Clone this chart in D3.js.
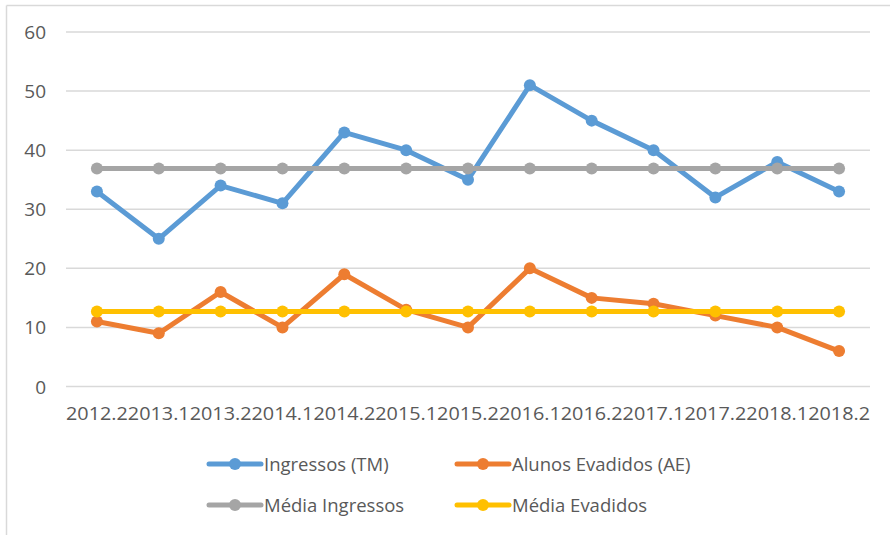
<!DOCTYPE html>
<html lang="pt">
<head>
<meta charset="UTF-8">
<title>Ingressos e Evadidos</title>
<script src="https://d3js.org/d3.v7.min.js"></script>
<style>
    body { margin: 0; background: #fff; }
    svg text { font-family: "Open Sans", sans-serif; fill: #595959; }
</style>
</head>
<body>
<svg width="890" height="535"></svg>
<script>
    // data
    const semesters = ["2012.2","2013.1","2013.2","2014.1","2014.2","2015.1","2015.2",
                       "2016.1","2016.2","2017.1","2017.2","2018.1","2018.2"];
    const ingressos = [33, 25, 34, 31, 43, 40, 35, 51, 45, 40, 32, 38, 33];
    const evadidos  = [11, 9, 16, 10, 19, 13, 10, 20, 15, 14, 12, 10, 6];
    const mediaIngressos = [36.9, 36.9, 36.9, 36.9, 36.9, 36.9, 36.9, 36.9, 36.9, 36.9, 36.9, 36.9, 36.9];
    const mediaEvadidos  = [12.7, 12.7, 12.7, 12.7, 12.7, 12.7, 12.7, 12.7, 12.7, 12.7, 12.7, 12.7, 12.7];
    const yTicks = [0, 10, 20, 30, 40, 50, 60];

    const series = [
        {name: "Ingressos (TM)", values: ingressos, color: "#5b9bd5"},
        {name: "Alunos Evadidos (AE)", values: evadidos, color: "#ed7d31"},
        {name: "Média Ingressos", values: mediaIngressos, color: "#a5a5a5"},
        {name: "Média Evadidos", values: mediaEvadidos, color: "#ffc000"}
    ];

    let svg = d3.select("svg");

    // chart frame (only top and left edges visible)
    svg.append("line").attr("x1", 6.5).attr("x2", 890).attr("y1", 5.5).attr("y2", 5.5)
        .attr("stroke", "#d9d9d9").attr("stroke-width", 1.5);
    svg.append("line").attr("x1", 6.5).attr("x2", 6.5).attr("y1", 5.5).attr("y2", 535)
        .attr("stroke", "#d9d9d9").attr("stroke-width", 1.5);

    let x = d3.scalePoint().domain(semesters).range([66, 870]).padding(0.5);
    let y = d3.scaleLinear().domain([0, 60]).range([386.5, 32]);

    // gridlines
    svg.append("g").selectAll("line")
        .data(yTicks).enter().append("line")
        .attr("x1", 66).attr("x2", 870)
        .attr("y1", d => y(d)).attr("y2", d => y(d))
        .attr("stroke", "#d9d9d9").attr("stroke-width", 1.5);

    // y labels
    svg.append("g").selectAll("text")
        .data(yTicks).enter().append("text")
        .attr("x", 46).attr("y", d => y(d) + 7)
        .attr("text-anchor", "end")
        .style("font-size", "19px")
        .text(d => d);

    // x labels
    svg.append("g").selectAll("text")
        .data(semesters).enter().append("text")
        .attr("x", d => x(d)).attr("y", 420)
        .attr("text-anchor", "middle")
        .attr("textLength", 61.8).attr("lengthAdjust", "spacingAndGlyphs")
        .style("font-size", "19px")
        .text(d => d);

    const line = d3.line()
        .x((d, i) => x(semesters[i]))
        .y(d => y(d));

    series.forEach(function (s) {
        let g = svg.append("g");
        g.append("path")
            .attr("d", line(s.values))
            .attr("fill", "none")
            .attr("stroke", s.color)
            .attr("stroke-width", 5)
            .attr("stroke-linejoin", "round")
            .attr("stroke-linecap", "round");
        g.selectAll("circle")
            .data(s.values).enter().append("circle")
            .attr("cx", (d, i) => x(semesters[i]))
            .attr("cy", d => y(d))
            .attr("r", 6)
            .attr("fill", s.color);
    });

    // legend
    const legendPos = [[209, 464], [457, 464], [209, 505], [457, 505]];
    series.forEach(function (s, i) {
        let p = legendPos[i];
        let g = svg.append("g").attr("transform", "translate(" + p[0] + "," + p[1] + ")");
        g.append("line").attr("x1", 0).attr("x2", 52).attr("y1", 0).attr("y2", 0)
            .attr("stroke", s.color).attr("stroke-width", 5).attr("stroke-linecap", "round");
        g.append("circle").attr("cx", 26).attr("cy", 0).attr("r", 6).attr("fill", s.color);
        g.append("text").attr("x", 55).attr("y", 7)
            .style("font-size", "18.5px")
            .text(s.name);
    });
</script>
</body>
</html>
